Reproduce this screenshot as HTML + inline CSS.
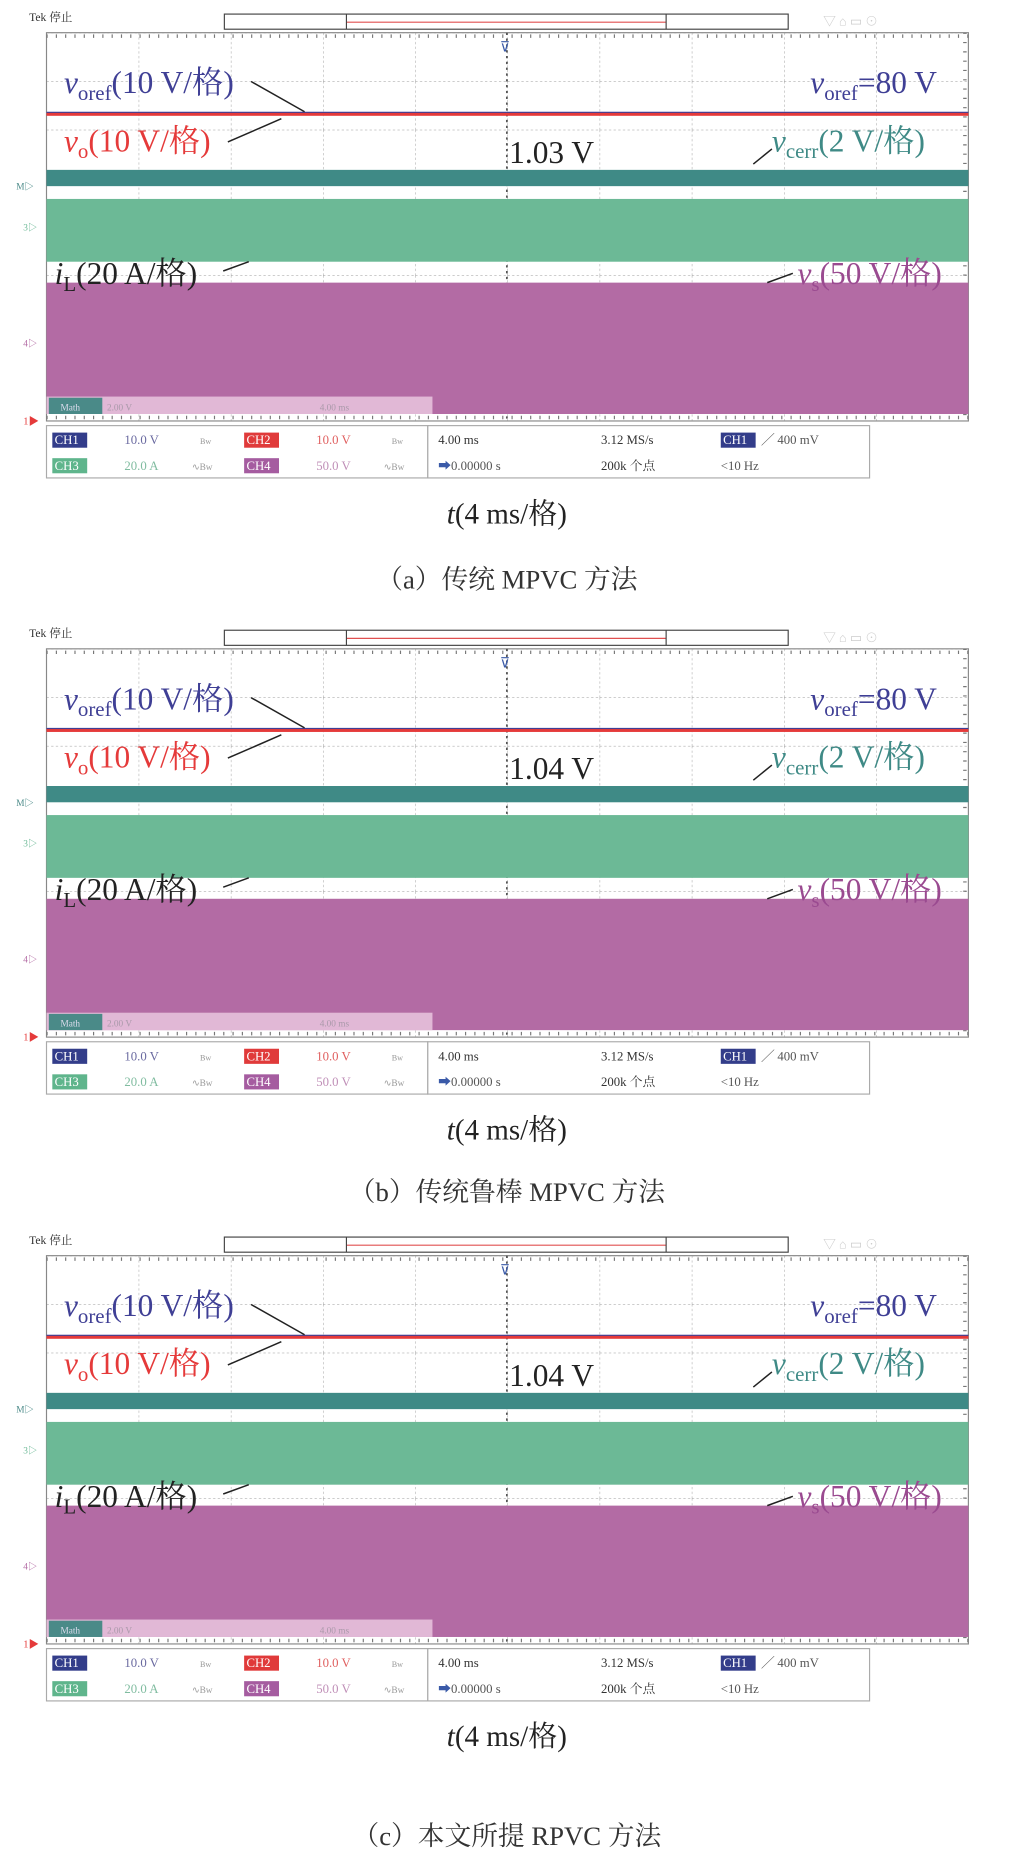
<!DOCTYPE html>
<html><head><meta charset="utf-8"><style>
html,body{margin:0;padding:0;background:#fff;width:1030px;height:1858px;overflow:hidden}
svg{display:block}
.s{font-family:"Liberation Serif","Noto Serif CJK SC",serif}
</style></head><body>
<svg width="1030" height="1858" viewBox="0 0 886 1598" xmlns="http://www.w3.org/2000/svg">
<defs>
<pattern id="grid" x="40" y="28" width="79.3" height="41.75" patternUnits="userSpaceOnUse">
<path d="M0 0V41.75M0 0H79.3" stroke="#999" stroke-width="0.8" stroke-dasharray="2,2" fill="none"/>
</pattern>
</defs>

<g id="pa" class="s">
<text x="25" y="18" font-size="10" fill="#333">Tek  停止</text>
<rect x="193" y="12" width="485" height="13" fill="#fff" stroke="#444" stroke-width="1"/>
<line x1="298" y1="19" x2="573" y2="19" stroke="#e05050" stroke-width="1"/>
<line x1="298" y1="12" x2="298" y2="25" stroke="#444"/><line x1="573" y1="12" x2="573" y2="25" stroke="#444"/>
<text x="708" y="22" font-size="11" fill="#ccc">▽    ⌂    ▭    ⊙</text>
<rect x="40" y="28" width="793" height="334" fill="url(#grid)" stroke="#888" stroke-width="1"/>
<line x1="436" y1="28" x2="436" y2="362" stroke="#555" stroke-width="1.5" stroke-dasharray="2,3"/>
<line x1="40" y1="31" x2="833" y2="31" stroke="#777" stroke-width="3" stroke-dasharray="1,7"/>
<line x1="40" y1="359" x2="833" y2="359" stroke="#777" stroke-width="3" stroke-dasharray="1,7"/>
<line x1="830" y1="28" x2="830" y2="362" stroke="#777" stroke-width="3" stroke-dasharray="1,7"/>
<text x="430" y="44" font-size="12" fill="#3b5ba8">⊽</text>
<rect x="40" y="96.5" width="793" height="3" fill="#e53a3a"/>
<rect x="40" y="96" width="793" height="1" fill="#3f3f95"/>
<rect x="40" y="146" width="793" height="14" fill="#3f8a86"/>
<rect x="40" y="171" width="793" height="54" fill="#6cb996"/>
<rect x="40" y="243" width="793" height="113" fill="#b36ba4"/>
<rect x="40" y="341" width="332" height="15" fill="#e1b8d6"/>
<rect x="42" y="342" width="46" height="14" fill="#4a8a88"/>
<text x="52" y="353" font-size="8" fill="#dde">Math</text>
<text x="92" y="353" font-size="8" fill="#a9a">2.00 V</text>
<text x="275" y="353" font-size="8" fill="#a9a">4.00 ms</text>
<text x="14" y="163" font-size="8" fill="#4a8a88">M▷</text>
<text x="20" y="198" font-size="8" fill="#6cb996">3▷</text>
<text x="20" y="298" font-size="8" fill="#b36ba4">4▷</text>
<text x="20" y="365" font-size="9" fill="#e53a3a">1▶</text>
<text x="55" y="80" font-size="27" fill="#3f3f95"><tspan font-style="italic">v</tspan><tspan font-size="18" dy="6">oref</tspan><tspan dy="-6">(10 V/格)</tspan></text>
<text x="697" y="80" font-size="27" fill="#3f3f95"><tspan font-style="italic">v</tspan><tspan font-size="18" dy="6">oref</tspan><tspan dy="-6">=80 V</tspan></text>
<text x="55" y="130" font-size="27" fill="#e53a3a"><tspan font-style="italic">v</tspan><tspan font-size="18" dy="6">o</tspan><tspan dy="-6">(10 V/格)</tspan></text>
<text x="664" y="130" font-size="27" fill="#3f8a86"><tspan font-style="italic">v</tspan><tspan font-size="18" dy="6">cerr</tspan><tspan dy="-6">(2 V/格)</tspan></text>
<text x="438" y="140" font-size="27" fill="#222">1.03 V</text>
<text x="47" y="244" font-size="27" fill="#222"><tspan font-style="italic">i</tspan><tspan font-size="18" dy="6">L</tspan><tspan dy="-6">(20 A/格)</tspan></text>
<text x="686" y="244" font-size="27" fill="#9a4a90"><tspan font-style="italic">v</tspan><tspan font-size="18" dy="6">s</tspan><tspan dy="-6">(50 V/格)</tspan></text>
<path d="M216 70L262 96M196 122L242 102M648 141L664 128M192 233L214 225M660 243L682 235" stroke="#222" stroke-width="1.3"/>
<rect x="40" y="366" width="328" height="45" fill="#fff" stroke="#aaa"/>
<rect x="368" y="366" width="380" height="45" fill="#fff" stroke="#aaa"/>
<g font-size="11">
<rect x="45" y="372" width="30" height="13" fill="#333d8a"/><text x="47" y="382" fill="#fff">CH1</text>
<text x="107" y="382" fill="#6a6aa0">10.0 V</text><text x="172" y="382" font-size="7" fill="#999">Bw</text>
<rect x="210" y="372" width="30" height="13" fill="#e03a3a"/><text x="212" y="382" fill="#fff">CH2</text>
<text x="272" y="382" fill="#e06060">10.0 V</text><text x="337" y="382" font-size="7" fill="#999">Bw</text>
<rect x="45" y="394" width="30" height="13" fill="#5fb58c"/><text x="47" y="404" fill="#fff">CH3</text>
<text x="107" y="404" fill="#80bca0">20.0 A</text><text x="165" y="404" font-size="8" fill="#999">∿Bw</text>
<rect x="210" y="394" width="30" height="13" fill="#a55ca0"/><text x="212" y="404" fill="#fff">CH4</text>
<text x="272" y="404" fill="#c090b8">50.0 V</text><text x="330" y="404" font-size="8" fill="#999">∿Bw</text>
<text x="377" y="382" fill="#333">4.00 ms</text>
<text x="517" y="382" fill="#333">3.12 MS/s</text>
<rect x="620" y="372" width="30" height="13" fill="#333d8a"/><text x="622" y="382" fill="#fff">CH1</text>
<text x="655" y="382" fill="#555">╱ 400 mV</text>
<text x="377" y="404" fill="#555"><tspan fill="#3a5aa8">➡</tspan>0.00000 s</text>
<text x="517" y="404" fill="#333">200k 个点</text>
<text x="620" y="404" fill="#555">&lt;10 Hz</text>
</g>
<text x="436" y="450" font-size="25" fill="#222" text-anchor="middle"><tspan font-style="italic">t</tspan>(4 ms/格)</text>
</g>

<g transform="translate(0,530)" class="s">
<text x="25" y="18" font-size="10" fill="#333">Tek  停止</text>
<rect x="193" y="12" width="485" height="13" fill="#fff" stroke="#444" stroke-width="1"/>
<line x1="298" y1="19" x2="573" y2="19" stroke="#e05050" stroke-width="1"/>
<line x1="298" y1="12" x2="298" y2="25" stroke="#444"/><line x1="573" y1="12" x2="573" y2="25" stroke="#444"/>
<text x="708" y="22" font-size="11" fill="#ccc">▽    ⌂    ▭    ⊙</text>
<rect x="40" y="28" width="793" height="334" fill="url(#grid)" stroke="#888" stroke-width="1"/>
<line x1="436" y1="28" x2="436" y2="362" stroke="#555" stroke-width="1.5" stroke-dasharray="2,3"/>
<line x1="40" y1="31" x2="833" y2="31" stroke="#777" stroke-width="3" stroke-dasharray="1,7"/>
<line x1="40" y1="359" x2="833" y2="359" stroke="#777" stroke-width="3" stroke-dasharray="1,7"/>
<line x1="830" y1="28" x2="830" y2="362" stroke="#777" stroke-width="3" stroke-dasharray="1,7"/>
<text x="430" y="44" font-size="12" fill="#3b5ba8">⊽</text>
<rect x="40" y="96.5" width="793" height="3" fill="#e53a3a"/>
<rect x="40" y="96" width="793" height="1" fill="#3f3f95"/>
<rect x="40" y="146" width="793" height="14" fill="#3f8a86"/>
<rect x="40" y="171" width="793" height="54" fill="#6cb996"/>
<rect x="40" y="243" width="793" height="113" fill="#b36ba4"/>
<rect x="40" y="341" width="332" height="15" fill="#e1b8d6"/>
<rect x="42" y="342" width="46" height="14" fill="#4a8a88"/>
<text x="52" y="353" font-size="8" fill="#dde">Math</text>
<text x="92" y="353" font-size="8" fill="#a9a">2.00 V</text>
<text x="275" y="353" font-size="8" fill="#a9a">4.00 ms</text>
<text x="14" y="163" font-size="8" fill="#4a8a88">M▷</text>
<text x="20" y="198" font-size="8" fill="#6cb996">3▷</text>
<text x="20" y="298" font-size="8" fill="#b36ba4">4▷</text>
<text x="20" y="365" font-size="9" fill="#e53a3a">1▶</text>
<text x="55" y="80" font-size="27" fill="#3f3f95"><tspan font-style="italic">v</tspan><tspan font-size="18" dy="6">oref</tspan><tspan dy="-6">(10 V/格)</tspan></text>
<text x="697" y="80" font-size="27" fill="#3f3f95"><tspan font-style="italic">v</tspan><tspan font-size="18" dy="6">oref</tspan><tspan dy="-6">=80 V</tspan></text>
<text x="55" y="130" font-size="27" fill="#e53a3a"><tspan font-style="italic">v</tspan><tspan font-size="18" dy="6">o</tspan><tspan dy="-6">(10 V/格)</tspan></text>
<text x="664" y="130" font-size="27" fill="#3f8a86"><tspan font-style="italic">v</tspan><tspan font-size="18" dy="6">cerr</tspan><tspan dy="-6">(2 V/格)</tspan></text>
<text x="438" y="140" font-size="27" fill="#222">1.04 V</text>
<text x="47" y="244" font-size="27" fill="#222"><tspan font-style="italic">i</tspan><tspan font-size="18" dy="6">L</tspan><tspan dy="-6">(20 A/格)</tspan></text>
<text x="686" y="244" font-size="27" fill="#9a4a90"><tspan font-style="italic">v</tspan><tspan font-size="18" dy="6">s</tspan><tspan dy="-6">(50 V/格)</tspan></text>
<path d="M216 70L262 96M196 122L242 102M648 141L664 128M192 233L214 225M660 243L682 235" stroke="#222" stroke-width="1.3"/>
<rect x="40" y="366" width="328" height="45" fill="#fff" stroke="#aaa"/>
<rect x="368" y="366" width="380" height="45" fill="#fff" stroke="#aaa"/>
<g font-size="11">
<rect x="45" y="372" width="30" height="13" fill="#333d8a"/><text x="47" y="382" fill="#fff">CH1</text>
<text x="107" y="382" fill="#6a6aa0">10.0 V</text><text x="172" y="382" font-size="7" fill="#999">Bw</text>
<rect x="210" y="372" width="30" height="13" fill="#e03a3a"/><text x="212" y="382" fill="#fff">CH2</text>
<text x="272" y="382" fill="#e06060">10.0 V</text><text x="337" y="382" font-size="7" fill="#999">Bw</text>
<rect x="45" y="394" width="30" height="13" fill="#5fb58c"/><text x="47" y="404" fill="#fff">CH3</text>
<text x="107" y="404" fill="#80bca0">20.0 A</text><text x="165" y="404" font-size="8" fill="#999">∿Bw</text>
<rect x="210" y="394" width="30" height="13" fill="#a55ca0"/><text x="212" y="404" fill="#fff">CH4</text>
<text x="272" y="404" fill="#c090b8">50.0 V</text><text x="330" y="404" font-size="8" fill="#999">∿Bw</text>
<text x="377" y="382" fill="#333">4.00 ms</text>
<text x="517" y="382" fill="#333">3.12 MS/s</text>
<rect x="620" y="372" width="30" height="13" fill="#333d8a"/><text x="622" y="382" fill="#fff">CH1</text>
<text x="655" y="382" fill="#555">╱ 400 mV</text>
<text x="377" y="404" fill="#555"><tspan fill="#3a5aa8">➡</tspan>0.00000 s</text>
<text x="517" y="404" fill="#333">200k 个点</text>
<text x="620" y="404" fill="#555">&lt;10 Hz</text>
</g>
<text x="436" y="450" font-size="25" fill="#222" text-anchor="middle"><tspan font-style="italic">t</tspan>(4 ms/格)</text>
</g>

<g transform="translate(0,1052)" class="s">
<text x="25" y="18" font-size="10" fill="#333">Tek  停止</text>
<rect x="193" y="12" width="485" height="13" fill="#fff" stroke="#444" stroke-width="1"/>
<line x1="298" y1="19" x2="573" y2="19" stroke="#e05050" stroke-width="1"/>
<line x1="298" y1="12" x2="298" y2="25" stroke="#444"/><line x1="573" y1="12" x2="573" y2="25" stroke="#444"/>
<text x="708" y="22" font-size="11" fill="#ccc">▽    ⌂    ▭    ⊙</text>
<rect x="40" y="28" width="793" height="334" fill="url(#grid)" stroke="#888" stroke-width="1"/>
<line x1="436" y1="28" x2="436" y2="362" stroke="#555" stroke-width="1.5" stroke-dasharray="2,3"/>
<line x1="40" y1="31" x2="833" y2="31" stroke="#777" stroke-width="3" stroke-dasharray="1,7"/>
<line x1="40" y1="359" x2="833" y2="359" stroke="#777" stroke-width="3" stroke-dasharray="1,7"/>
<line x1="830" y1="28" x2="830" y2="362" stroke="#777" stroke-width="3" stroke-dasharray="1,7"/>
<text x="430" y="44" font-size="12" fill="#3b5ba8">⊽</text>
<rect x="40" y="96.5" width="793" height="3" fill="#e53a3a"/>
<rect x="40" y="96" width="793" height="1" fill="#3f3f95"/>
<rect x="40" y="146" width="793" height="14" fill="#3f8a86"/>
<rect x="40" y="171" width="793" height="54" fill="#6cb996"/>
<rect x="40" y="243" width="793" height="113" fill="#b36ba4"/>
<rect x="40" y="341" width="332" height="15" fill="#e1b8d6"/>
<rect x="42" y="342" width="46" height="14" fill="#4a8a88"/>
<text x="52" y="353" font-size="8" fill="#dde">Math</text>
<text x="92" y="353" font-size="8" fill="#a9a">2.00 V</text>
<text x="275" y="353" font-size="8" fill="#a9a">4.00 ms</text>
<text x="14" y="163" font-size="8" fill="#4a8a88">M▷</text>
<text x="20" y="198" font-size="8" fill="#6cb996">3▷</text>
<text x="20" y="298" font-size="8" fill="#b36ba4">4▷</text>
<text x="20" y="365" font-size="9" fill="#e53a3a">1▶</text>
<text x="55" y="80" font-size="27" fill="#3f3f95"><tspan font-style="italic">v</tspan><tspan font-size="18" dy="6">oref</tspan><tspan dy="-6">(10 V/格)</tspan></text>
<text x="697" y="80" font-size="27" fill="#3f3f95"><tspan font-style="italic">v</tspan><tspan font-size="18" dy="6">oref</tspan><tspan dy="-6">=80 V</tspan></text>
<text x="55" y="130" font-size="27" fill="#e53a3a"><tspan font-style="italic">v</tspan><tspan font-size="18" dy="6">o</tspan><tspan dy="-6">(10 V/格)</tspan></text>
<text x="664" y="130" font-size="27" fill="#3f8a86"><tspan font-style="italic">v</tspan><tspan font-size="18" dy="6">cerr</tspan><tspan dy="-6">(2 V/格)</tspan></text>
<text x="438" y="140" font-size="27" fill="#222">1.04 V</text>
<text x="47" y="244" font-size="27" fill="#222"><tspan font-style="italic">i</tspan><tspan font-size="18" dy="6">L</tspan><tspan dy="-6">(20 A/格)</tspan></text>
<text x="686" y="244" font-size="27" fill="#9a4a90"><tspan font-style="italic">v</tspan><tspan font-size="18" dy="6">s</tspan><tspan dy="-6">(50 V/格)</tspan></text>
<path d="M216 70L262 96M196 122L242 102M648 141L664 128M192 233L214 225M660 243L682 235" stroke="#222" stroke-width="1.3"/>
<rect x="40" y="366" width="328" height="45" fill="#fff" stroke="#aaa"/>
<rect x="368" y="366" width="380" height="45" fill="#fff" stroke="#aaa"/>
<g font-size="11">
<rect x="45" y="372" width="30" height="13" fill="#333d8a"/><text x="47" y="382" fill="#fff">CH1</text>
<text x="107" y="382" fill="#6a6aa0">10.0 V</text><text x="172" y="382" font-size="7" fill="#999">Bw</text>
<rect x="210" y="372" width="30" height="13" fill="#e03a3a"/><text x="212" y="382" fill="#fff">CH2</text>
<text x="272" y="382" fill="#e06060">10.0 V</text><text x="337" y="382" font-size="7" fill="#999">Bw</text>
<rect x="45" y="394" width="30" height="13" fill="#5fb58c"/><text x="47" y="404" fill="#fff">CH3</text>
<text x="107" y="404" fill="#80bca0">20.0 A</text><text x="165" y="404" font-size="8" fill="#999">∿Bw</text>
<rect x="210" y="394" width="30" height="13" fill="#a55ca0"/><text x="212" y="404" fill="#fff">CH4</text>
<text x="272" y="404" fill="#c090b8">50.0 V</text><text x="330" y="404" font-size="8" fill="#999">∿Bw</text>
<text x="377" y="382" fill="#333">4.00 ms</text>
<text x="517" y="382" fill="#333">3.12 MS/s</text>
<rect x="620" y="372" width="30" height="13" fill="#333d8a"/><text x="622" y="382" fill="#fff">CH1</text>
<text x="655" y="382" fill="#555">╱ 400 mV</text>
<text x="377" y="404" fill="#555"><tspan fill="#3a5aa8">➡</tspan>0.00000 s</text>
<text x="517" y="404" fill="#333">200k 个点</text>
<text x="620" y="404" fill="#555">&lt;10 Hz</text>
</g>
<text x="436" y="450" font-size="25" fill="#222" text-anchor="middle"><tspan font-style="italic">t</tspan>(4 ms/格)</text>
</g>

<g class="s" font-size="23" fill="#333" text-anchor="middle">
<text x="436" y="506">（a）传统 MPVC 方法</text>
<text x="436" y="1033">（b）传统鲁棒 MPVC 方法</text>
<text x="436" y="1587">（c）本文所提 RPVC 方法</text>
</g>
</svg>
</body></html>
